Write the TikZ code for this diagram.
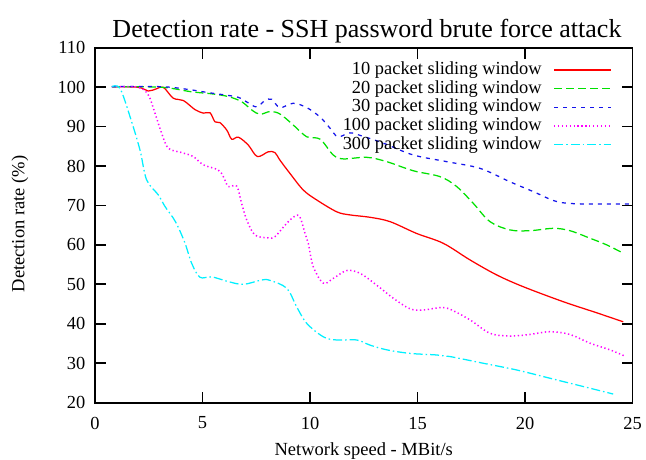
\documentclass[tikz,border=0pt]{standalone}
\usepackage{fontspec}
\setmainfont{Liberation Serif}

\definecolor{tenred}{RGB}{255,0,0}
\definecolor{twentygreen}{RGB}{0,225,0}
\definecolor{thirtyblue}{RGB}{20,20,235}
\definecolor{hundredmag}{RGB}{255,0,255}
\definecolor{threehcyan}{RGB}{0,240,255}

\tikzset{
  frameline/.style={black, line width=1.8pt},
  tickline/.style={black, line width=1.8pt},
  ticklabel/.style={inner sep=0pt, font=\fontsize{18.4}{20}\selectfont},
  axislabel/.style={inner sep=0pt, font=\fontsize{18.5}{20}\selectfont},
  legendtext/.style={inner sep=0pt, anchor=east, font=\fontsize{18.4}{20}\selectfont},
  curve/.style={line width=1.25pt, smooth, tension=0.55},
  redline/.style={curve, tenred},
  greenline/.style={curve, twentygreen, dash pattern=on 8pt off 4pt},
  blueline/.style={curve, thirtyblue, dash pattern=on 4pt off 5pt},
  magentaline/.style={curve, hundredmag, line width=1.5pt, dash pattern=on 1.3pt off 2.6pt},
  cyanline/.style={curve, threehcyan, dash pattern=on 9pt off 3pt on 1.5pt off 3pt}
}

\begin{document}
\begin{tikzpicture}[x=21.5pt, y=3.945pt]
  \useasboundingbox (-95pt,22.6pt) rectangle (551pt,481.6pt);

  % title and axis labels
  \node[anchor=base, inner sep=0pt, font=\fontsize{26}{28}\selectfont] (title) at (12.65,112.57)
    {Detection rate - SSH password brute force attack};
  \node[axislabel, anchor=base] (xlabel) at (12.5,6.74) {Network speed - MBit/s};
  \node[axislabel, rotate=90] (ylabel) at (-3.49,65.3) {Detection rate (\%)};

  % ticks and tick labels
  \foreach \x in {0,5,...,25}
    \node[ticklabel, anchor=north] (xt\x) at ([yshift=-14pt]\x,20) {\x};
  \foreach \x in {5,10,15,20} {
    \draw[tickline] (\x,20) -- ++(0,11pt);
    \draw[tickline] (\x,110) -- ++(0,-11pt);
  }
  \foreach \y in {20,30,...,110}
    \node[ticklabel, anchor=east] (yt\y) at ([xshift=-9.5pt]0,\y) {\y};
  \foreach \y in {30,40,...,100} {
    \draw[tickline] (0,\y) -- ++(11pt,0);
    \draw[tickline] (25,\y) -- ++(-11pt,0);
  }

  % curves
  \draw[redline] plot coordinates {(0.78,100.1) (2.01,99.95) (2.48,99.0) (2.87,99.6)
    (3.18,99.95) (3.64,97.2) (4.11,96.6) (4.65,94.3) (5.04,93.4) (5.35,93.5) (5.58,91.2)
    (5.81,91.0) (6.13,89.1) (6.36,86.8) (6.67,87.3) (7.13,85.3) (7.55,82.4) (8.06,83.6)
    (8.37,83.4) (8.60,81.5) (9.07,78.1) (9.69,73.9) (10.31,71.4) (11.24,68.4) (11.86,67.6)
    (12.79,67.0) (13.72,65.9) (14.96,62.9) (16.2,60.4) (17.44,56.2) (18.68,52.4)
    (19.92,49.4) (21.78,45.6) (23.33,42.8) (24.57,40.5)};
  \draw[greenline] plot coordinates {(0.78,100.1) (3.10,99.95) (4.50,98.8) (5.43,98.3)
    (6.2,97.6) (6.82,96.3) (7.29,94.2) (7.67,93.1) (8.14,93.8) (8.60,93.2) (9.22,90.4)
    (9.85,87.4) (10.47,86.8) (11.08,82.8) (11.55,81.8) (12.64,82.2) (13.57,81.1)
    (14.80,78.8) (16.05,77.3) (16.82,74.8) (17.6,70.5) (18.37,65.9) (19.30,63.8)
    (20.23,63.6) (21.32,64.2) (22.09,63.6) (23.02,61.7) (23.8,60.0) (24.57,57.9)};
  \draw[blueline] plot coordinates {(0.78,100.1) (3.10,100.1) (4.34,99.4) (5.27,98.6)
    (6.05,98.0) (6.67,97.4) (7.13,96.0) (7.52,95.0) (7.91,96.6) (8.22,96.9) (8.60,94.8)
    (9.22,95.9) (9.85,94.8) (10.47,92.4) (10.93,89.6) (11.3,87.4) (11.86,88.4)
    (12.42,87.6) (13.41,85.8) (14.80,82.8) (16.36,81.1) (17.91,79.4) (19.30,76.0)
    (20.39,73.5) (21.47,71.0) (22.56,70.4) (24.88,70.4)};
  \draw[magentaline] plot coordinates {(0.78,100.1) (2.01,99.95) (2.48,98.0) (2.79,93.4)
    (3.10,88.3) (3.41,84.5) (4.03,83.4) (4.57,82.4) (5.04,80.3) (5.73,79.0) (5.97,77.3)
    (6.2,74.8) (6.59,74.9) (6.82,70.5) (7.06,66.3) (7.44,62.5) (8.06,61.8) (8.37,62.1)
    (8.92,65.5) (9.30,67.3) (9.53,67.1) (9.77,62.9) (9.92,60.4) (10.15,54.5) (10.62,50.3)
    (11.08,51.5) (11.71,53.5) (12.33,52.8) (13.1,49.8) (13.87,46.5) (14.65,43.8)
    (15.27,43.5) (16.05,44.1) (16.51,43.7) (17.44,41.0) (18.37,37.6) (19.30,36.9)
    (20.23,37.3) (21.16,38.0) (22.09,37.3) (23.02,35.1) (23.95,33.4) (24.65,31.8)};
  \draw[cyanline] plot coordinates {(0.78,100.1) (1.16,99.7) (1.63,92.5) (2.09,84.1)
    (2.40,76.5) (2.94,72.7) (3.26,69.7) (3.64,66.8) (3.87,64.5) (4.19,60.4) (4.50,55.3)
    (4.88,51.8) (5.43,51.9) (6.2,50.7) (6.90,50.0) (7.75,51.1) (8.14,51.0) (8.92,49.0)
    (9.38,44.3) (9.85,40.1) (10.62,36.7) (11.24,35.9) (12.17,35.9) (12.79,34.6)
    (13.57,33.4) (14.65,32.5) (15.89,32.1) (16.51,31.7) (18.06,30.0) (19.61,28.3)
    (21.16,26.2) (22.71,24.1) (24.1,22.2)};

  % legend
  \foreach \lab/\sty [count=\i from 0] in
      {10/redline,20/greenline,30/blueline,100/magentaline,300/cyanline} {
    \node[legendtext] (key\lab) at (20.78,{104.33-4.73*\i}) {\lab{} packet sliding window};
    \draw[\sty] ([xshift=12.3pt]key\lab.east) -- ++(56.7pt,0);
  }

  % frame
  \draw[frameline] (0,20) rectangle (25,110);
\end{tikzpicture}
\end{document}
